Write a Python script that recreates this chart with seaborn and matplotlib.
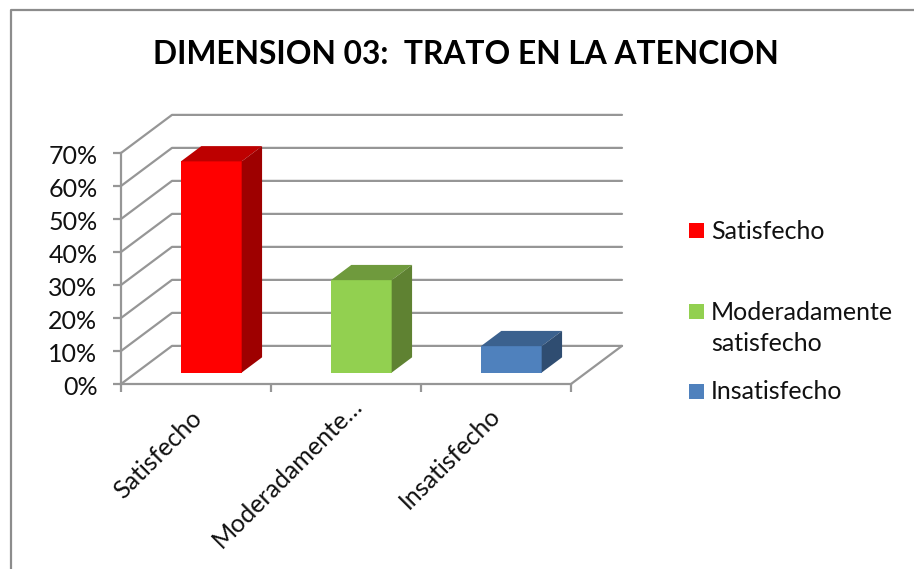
import matplotlib
matplotlib.use("Agg")
import matplotlib.pyplot as plt
from matplotlib.lines import Line2D
from matplotlib.patches import Polygon, Rectangle
from matplotlib.transforms import ScaledTranslation
import pandas as pd
import seaborn as sns

categories = ["Satisfecho", "Moderadamente satisfecho", "Insatisfecho"]
values = [64, 28, 8]
tick_labels = ["Satisfecho", "Moderadamente…", "Insatisfecho"]
legend_labels = ["Satisfecho", "Moderadamente\nsatisfecho", "Insatisfecho"]
y_ticks = [0, 10, 20, 30, 40, 50, 60, 70]

front_colors = ["#FF0000", "#92D050", "#4F81BD"]
top_colors = ["#BD0000", "#6F9A3D", "#3B618E"]
side_colors = ["#9E0000", "#5F8232", "#2F4D71"]
line_color = "#969696"

W, H = 914, 569

sns.set_theme(style="white")
plt.rcParams["font.family"] = ["Lato", "DejaVu Sans"]

fig = plt.figure(figsize=(W / 100, H / 100), dpi=100, facecolor="white")
ax = fig.add_axes([121 / W, (H - 384) / H, 450 / W, 231 / H])
ax.patch.set_alpha(0)

df = pd.DataFrame({"categoria": categories, "valor": values})
sns.barplot(data=df, x="categoria", y="valor", hue="categoria", palette=front_colors,
            width=0.405, dodge=False, legend=False, ax=ax, saturation=1, zorder=3)
ax.set_xlim(-0.5, 2.5)
ax.set_ylim(0, 70)


# depth of the fake 3D box, in data units
DEPTH_X = 0.34
DEPTH_Y = 11.55
BAR_NEAR = 0.3
BAR_FAR = 0.7


def project(x, y, d):
    return x + DEPTH_X * d, y + DEPTH_Y * d


# walls and floor
for v in y_ticks:
    ax.add_line(Line2D(*zip(project(-0.5, v, 0), project(-0.5, v, 1), project(2.5, v, 1)),
                       color=line_color, lw=1.6, clip_on=False, zorder=1))
ax.add_line(Line2D(*zip(project(2.5, 0, 0), project(2.5, 0, 1)),
                   color=line_color, lw=1.6, clip_on=False, zorder=1))

# move the bars back from the front edge and add top and side faces
for i, bar in enumerate(ax.patches[:len(values)]):
    x0, x1 = bar.get_x(), bar.get_x() + bar.get_width()
    v = bar.get_height()
    sx, sy = project(x0, 0, BAR_NEAR)
    bar.set_xy((sx, sy))
    bar.set_clip_on(False)
    bar.set_linewidth(0)
    top = [project(x0, v, BAR_NEAR), project(x1, v, BAR_NEAR),
           project(x1, v, BAR_FAR), project(x0, v, BAR_FAR)]
    side = [project(x1, 0, BAR_NEAR), project(x1, 0, BAR_FAR),
            project(x1, v, BAR_FAR), project(x1, v, BAR_NEAR)]
    ax.add_patch(Polygon(top, closed=True, fc=top_colors[i], lw=0, clip_on=False, zorder=3))
    ax.add_patch(Polygon(side, closed=True, fc=side_colors[i], lw=0, clip_on=False, zorder=3))

sns.despine(ax=ax, top=True, right=True)
for name in ["left", "bottom"]:
    ax.spines[name].set_color(line_color)
    ax.spines[name].set_linewidth(1.6)

ax.set_xlabel("")
ax.set_ylabel("")
ax.set_yticks(y_ticks)
ax.set_yticklabels([f"{v}%" for v in y_ticks], fontsize=18, color="#111111")
ax.set_xticks([-0.5, 0.5, 1.5, 2.5])
ax.set_xticklabels([])
ax.tick_params(axis="both", which="major", length=6, width=1.6, color=line_color,
               left=True, bottom=True)
ax.tick_params(axis="y", pad=11)
nudge = ScaledTranslation(0, -1.5 / 100, fig.dpi_scale_trans)
for lab in ax.get_yticklabels():
    lab.set_transform(lab.get_transform() + nudge)

# end of each rotated label, pixels from the category centre
label_shift = [(-6, -22), (4, -10), (-8, -20)]
for i, label in enumerate(tick_labels):
    ax.annotate(label, xy=(i, 0), xycoords="data", xytext=label_shift[i], textcoords="offset pixels",
                rotation=45, ha="right", va="top", rotation_mode="anchor",
                fontsize=18, color="#111111", annotation_clip=False)

fig.text(466 / W, 1 - 55 / H, "DIMENSION 03:  TRATO EN LA ATENCION", ha="center", va="center",
         fontsize=22.9, fontweight="bold", color="black")

# legend
legend_y = [231, 311, 391]
text_y = [231.5, 328, 391.5]
for color, label, hy, ty in zip(front_colors, legend_labels, legend_y, text_y):
    fig.add_artist(Rectangle((689 / W, 1 - (hy + 7.5) / H), 15 / W, 15 / H, fc=color, lw=0,
                             transform=fig.transFigure))
    fig.text(711 / W, 1 - ty / H, label, ha="left", va="center", fontsize=18, color="#111111",
             linespacing=1.45)

# chart border, only top and left are inside the crop
fig.add_artist(Line2D([11 / W, 11 / W, 1], [0, 1 - 10 / H, 1 - 10 / H], color="#8C8C8C", lw=1.6,
                      transform=fig.transFigure))

fig.savefig("out.png", dpi=100)
